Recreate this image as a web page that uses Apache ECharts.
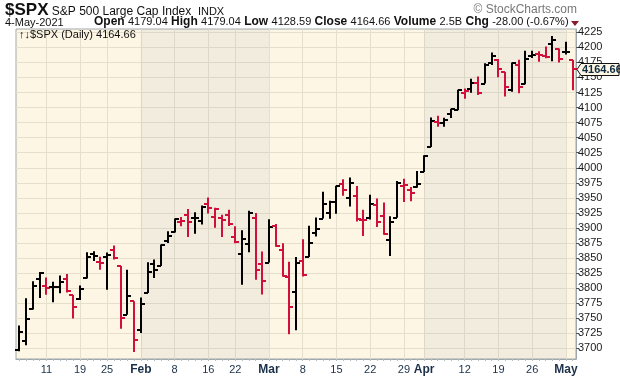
<!DOCTYPE html>
<html><head><meta charset="utf-8">
<script src="https://cdn.jsdelivr.net/npm/echarts@6/dist/echarts.min.js"></script>
<style>html,body{margin:0;padding:0;background:#fff}#c{width:620px;height:376px}</style>
</head><body><div id="c"></div>
<script>
const dates = [
'2021-01-05','2021-01-06','2021-01-07','2021-01-08','2021-01-11','2021-01-12','2021-01-13','2021-01-14','2021-01-15','2021-01-19','2021-01-20','2021-01-21','2021-01-22','2021-01-25','2021-01-26','2021-01-27','2021-01-28','2021-01-29',
'2021-02-01','2021-02-02','2021-02-03','2021-02-04','2021-02-05','2021-02-08','2021-02-09','2021-02-10','2021-02-11','2021-02-12','2021-02-16','2021-02-17','2021-02-18','2021-02-19','2021-02-22','2021-02-23','2021-02-24','2021-02-25','2021-02-26',
'2021-03-01','2021-03-02','2021-03-03','2021-03-04','2021-03-05','2021-03-08','2021-03-09','2021-03-10','2021-03-11','2021-03-12','2021-03-15','2021-03-16','2021-03-17','2021-03-18','2021-03-19','2021-03-22','2021-03-23','2021-03-24','2021-03-25','2021-03-26','2021-03-29','2021-03-30','2021-03-31',
'2021-04-01','2021-04-05','2021-04-06','2021-04-07','2021-04-08','2021-04-09','2021-04-12','2021-04-13','2021-04-14','2021-04-15','2021-04-16','2021-04-19','2021-04-20','2021-04-21','2021-04-22','2021-04-23','2021-04-26','2021-04-27','2021-04-28','2021-04-29','2021-04-30',
'2021-05-03','2021-05-04'];
const opens = [
3698.02,3712.20,3764.71,3815.05,3803.14,3801.62,3802.23,3814.98,3788.73,3781.88,3816.22,3857.46,3844.24,3851.68,3862.96,3836.83,3755.75,3778.05,
3731.17,3791.84,3840.27,3836.66,3878.30,3892.59,3910.49,3920.78,3916.40,3911.65,3939.61,3918.50,3915.86,3921.16,3885.55,3857.07,3873.71,3915.80,3839.66,
3842.51,3903.64,3863.99,3818.53,3793.58,3844.39,3851.93,3891.99,3915.54,3924.52,3942.96,3973.59,3949.57,3953.50,3913.14,3916.48,3937.60,3919.93,3879.34,3917.12,3969.31,3963.34,3967.25,
3992.78,4034.44,4075.57,4074.29,4089.95,4096.11,4124.71,4130.10,4141.58,4139.76,4174.14,4179.80,4159.18,4128.42,4170.46,4138.78,4185.03,4188.25,4185.14,4206.14,4198.10,
4191.98,4179.04];
const highs = [
3737.83,3783.04,3811.55,3826.69,3817.86,3810.78,3820.96,3823.60,3788.73,3804.53,3859.75,3861.45,3852.31,3859.23,3870.90,3836.83,3830.50,3778.05,
3784.32,3843.09,3847.51,3872.42,3894.56,3915.77,3918.35,3931.50,3925.99,3937.23,3950.43,3933.61,3921.98,3930.41,3902.92,3895.98,3928.65,3925.02,3861.08,
3914.50,3906.41,3874.47,3843.67,3851.69,3881.06,3903.76,3917.35,3960.27,3944.99,3970.08,3981.04,3983.87,3969.62,3930.12,3955.31,3949.13,3942.08,3919.54,3978.19,3981.83,3968.01,3994.41,
4020.63,4083.42,4086.23,4083.13,4098.19,4129.48,4131.76,4148.00,4151.69,4173.49,4191.31,4180.81,4159.18,4175.02,4179.57,4194.17,4194.19,4193.35,4201.53,4218.78,4198.10,
4209.39,4179.04];
const lows = [
3695.07,3705.34,3764.71,3783.60,3789.02,3776.51,3791.50,3792.86,3749.62,3780.37,3816.22,3845.05,3830.41,3797.16,3847.78,3732.48,3755.75,3694.12,
3725.62,3791.84,3816.68,3836.66,3874.93,3892.59,3902.64,3884.94,3890.39,3905.78,3923.85,3900.43,3885.03,3903.07,3874.71,3805.59,3859.60,3814.04,3789.54,
3842.51,3868.57,3818.86,3723.34,3730.19,3819.25,3851.93,3885.73,3915.54,3915.21,3923.54,3953.44,3935.74,3910.86,3886.75,3914.16,3901.57,3888.58,3853.50,3917.12,3943.25,3944.35,3966.98,
3992.78,4034.44,4068.14,4068.31,4082.54,4095.51,4114.82,4124.43,4120.87,4139.76,4170.75,4150.47,4118.38,4126.35,4123.69,4138.78,4182.36,4176.22,4181.78,4176.81,4174.85,
4188.03,4128.59];
const closes = [
3726.86,3748.14,3803.79,3824.68,3799.61,3801.19,3809.84,3795.54,3768.25,3798.91,3851.85,3853.07,3841.47,3855.36,3849.62,3750.77,3787.38,3714.24,
3773.86,3826.31,3830.17,3871.74,3886.83,3915.59,3911.23,3909.88,3916.38,3934.83,3932.59,3931.33,3913.97,3906.71,3876.50,3881.37,3925.43,3829.34,3811.15,
3901.82,3870.29,3819.72,3768.47,3841.94,3821.35,3875.44,3898.81,3939.34,3943.34,3968.94,3962.71,3974.12,3915.46,3913.10,3940.59,3910.52,3889.14,3909.52,3974.54,3971.09,3958.55,3972.89,
4019.87,4077.91,4073.94,4079.95,4097.17,4128.80,4127.99,4141.59,4124.66,4170.42,4185.47,4163.26,4134.94,4173.42,4134.98,4180.17,4187.62,4186.72,4183.18,4211.47,4181.17,
4192.66,4164.66];
const priorClose = 3700.65;
const xTickDates = ['2021-01-11','2021-01-19','2021-01-25','2021-02-01','2021-02-08','2021-02-16','2021-02-22','2021-03-01','2021-03-08','2021-03-15','2021-03-22','2021-03-29','2021-04-01','2021-04-12','2021-04-19','2021-04-26','2021-05-03'];
const xTickLabels = ['11','19','25','Feb','8','16','22','Mar','8','15','22','29','Apr','12','19','26','May'];
const yTicks = [3700,3725,3750,3775,3800,3825,3850,3875,3900,3925,3950,3975,4000,4025,4050,4075,4100,4125,4150,4175,4200,4225];
const shadedMonths = [['2021-02-01','2021-03-01'],['2021-04-01','2021-05-03']];
const lastPrice = 4164.66;

const UP = '#000000', DOWN = '#d0103a';
const rows = dates.map((d, i) => [i, opens[i], highs[i], lows[i], closes[i], closes[i] >= (i ? closes[i-1] : priorClose) ? 1 : 0]);
const isTick = (idx, val) => xTickDates.indexOf(val) >= 0;
const FONT = '"Liberation Sans", Arial, sans-serif';

const chart = echarts.init(document.getElementById('c'), null, {renderer: 'canvas'});
const baseGraphic = [
  {type: 'text', left: 5, top: 2, style: {text: '{a|$SPX} {b|S&P 500 Large Cap Index}  {c|INDX}', fontFamily: FONT,
    rich: {a: {fontSize: 17, fontWeight: 'bold', fill: '#111'}, b: {fontSize: 12, fill: '#111', padding: [3,0,0,0]}, c: {fontSize: 11, fill: '#111', padding: [3,0,0,0]}}}},
  {type: 'text', right: 43, top: 4, style: {text: '© StockCharts.com', fontSize: 12, fill: '#777', fontFamily: FONT}},
  {type: 'text', left: 5, top: 17, style: {text: '4-May-2021', fontSize: 11, fill: '#111', fontFamily: FONT}},
  {type: 'text', left: 94, top: 16, style: {
    text: '{l|Open} {v|4179.04} {l|High} {v|4179.04} {l|Low} {v|4128.59} {l|Close} {v|4164.66} {l|Volume} {v|2.5B} {l|Chg} {v|-28.00 (-0.67%)}',
    fontFamily: FONT,
    rich: {l: {fontSize: 12, fontWeight: 'bold', fill: '#111'}, v: {fontSize: 11, fill: '#111'}}}},
  {type: 'polygon', shape: {points: [[571, 21], [579, 21], [575, 26]]}, style: {fill: '#8b1a2b'}},
  {type: 'text', left: 19, top: 29, z: 100, style: {text: '↑↓$SPX (Daily) 4164.66', fontSize: 11, fill: '#111', fontFamily: FONT}}
];

chart.setOption({
  animation: false,
  backgroundColor: '#ffffff',
  textStyle: {fontFamily: FONT},
  grid: {left: 16, right: 44, top: 29, bottom: 16, show: true, backgroundColor: '#fdf6e4', borderColor: '#9ea8ac', borderWidth: 1},
  xAxis: {
    type: 'category', data: dates, boundaryGap: true,
    axisLine: {show: true, lineStyle: {color: '#9ea8ac'}},
    axisTick: {show: true, interval: 0, alignWithLabel: true, length: 2, lineStyle: {color: '#b8bcbf'}},
    axisLabel: {
      interval: isTick, margin: 5, fontSize: 11, color: '#1b3049', fontFamily: FONT,
      formatter: v => { const k = xTickDates.indexOf(v); const t = xTickLabels[k]; return /^[A-Z]/.test(t) ? '{m|' + t + '}' : t; },
      rich: {m: {fontWeight: 'bold', fontSize: 12, color: '#1b3049', fontFamily: FONT}}
    },
    splitLine: {show: true, interval: isTick, alignWithLabel: true, lineStyle: {color: '#e6dfcc', width: 1}}
  },
  yAxis: {
    type: 'value', position: 'right', min: 3682.3, max: 4230.5, scale: true,
    axisLine: {show: true, lineStyle: {color: '#9ea8ac'}},
    axisTick: {show: true, customValues: yTicks, length: 3, lineStyle: {color: '#555'}},
    axisLabel: {customValues: yTicks, margin: 2, fontSize: 11, color: '#1a1a1a', fontFamily: FONT, formatter: v => String(v)},
    splitLine: {show: true, lineStyle: {color: '#e6dfcc', width: 1}}
  },
  series: [
    {
      type: 'line', data: closes, symbol: 'none', silent: true, z: 1,
      lineStyle: {opacity: 0},
      markArea: {silent: true, itemStyle: {color: 'rgba(153,156,177,0.11)'},
        data: shadedMonths.map(m => [{xAxis: m[0]}, {xAxis: m[1]}])}
    },
    {
      type: 'custom', z: 5, data: rows,
      encode: {x: 0, y: [1, 2, 3, 4]},
      renderItem: (params, api) => {
        const i = api.value(0);
        const pH = api.coord([i, api.value(2)]);
        const pL = api.coord([i, api.value(3)]);
        const pO = api.coord([i, api.value(1)]);
        const pC = api.coord([i, api.value(4)]);
        const x = Math.round(pH[0]);
        const col = api.value(5) ? UP : DOWN;
        const st = {stroke: col, lineWidth: 2, fill: null};
        const yo = Math.round(pO[1]), yc = Math.round(pC[1]);
        return {type: 'group', children: [
          {type: 'line', shape: {x1: x, y1: pH[1], x2: x, y2: pL[1]}, style: st},
          {type: 'line', shape: {x1: x - 4, y1: yo, x2: x, y2: yo}, style: st},
          {type: 'line', shape: {x1: x, y1: yc, x2: x + 4, y2: yc}, style: st}
        ]};
      }
    }
  ],
  graphic: baseGraphic
});

// last-price tag placed through the y axis scale
const py = Math.round(chart.convertToPixel({yAxisIndex: 0}, lastPrice)) + 0.5;
const tx = 577;
chart.setOption({graphic: baseGraphic.concat([
  {type: 'polygon', z: 100, shape: {points: [[tx, py], [tx + 4, py - 6], [619, py - 6], [619, py + 6], [tx + 4, py + 6]]},
    style: {fill: '#fdf6e4', stroke: '#111', lineWidth: 1}},
  {type: 'text', z: 101, x: tx + 5, y: py, style: {text: lastPrice.toFixed(2), fontSize: 11, fontWeight: 'bold', fill: '#0d2a40', fontFamily: FONT, textVerticalAlign: 'middle', verticalAlign: 'middle'}}
])});
</script></body></html>
